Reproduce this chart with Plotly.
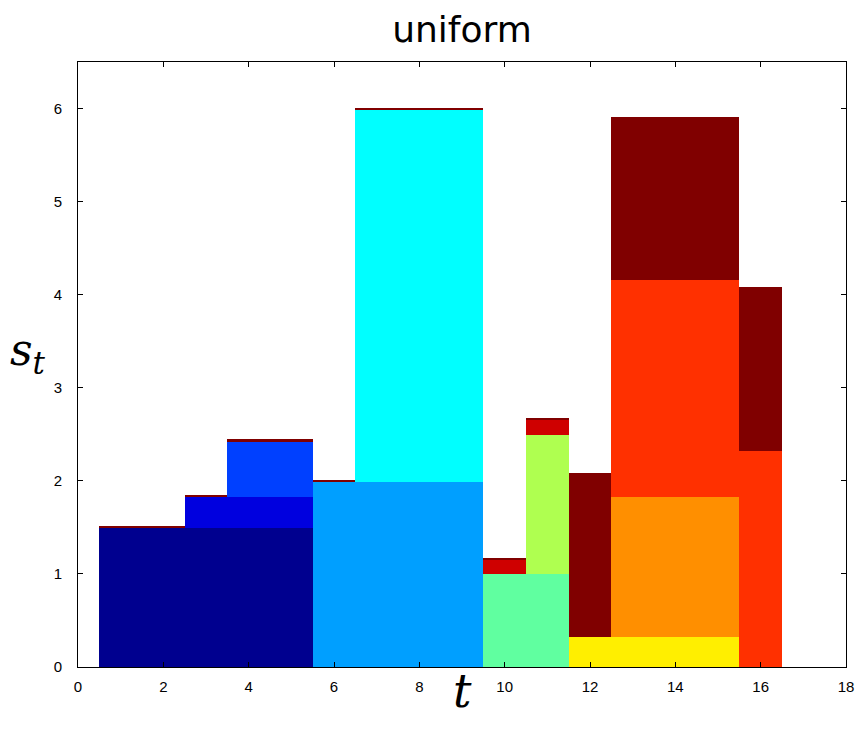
import plotly.graph_objects as go

t = list(range(1, 17))

series_names = ["c1", "c2", "c3", "c4", "c5", "c6", "c7", "c8", "c9", "c10", "c11", "c12"]
series_colors = ["#00008F", "#0000DF", "#0040FF", "#009FFF", "#00FFFF", "#60FFA0",
                 "#AFFF50", "#FFEF00", "#FF8F00", "#FF3000", "#CF0000", "#800000"]

c1 = [1.495, 1.495, 1.495, 1.495, 1.495, 0, 0, 0, 0, 0, 0, 0, 0, 0, 0, 0]
c2 = [0, 0, 0.333, 0.333, 0.333, 0, 0, 0, 0, 0, 0, 0, 0, 0, 0, 0]
c3 = [0, 0, 0, 0.600, 0.600, 0, 0, 0, 0, 0, 0, 0, 0, 0, 0, 0]
c4 = [0, 0, 0, 0, 0, 1.993, 1.993, 1.993, 1.993, 0, 0, 0, 0, 0, 0, 0]
c5 = [0, 0, 0, 0, 0, 0, 3.993, 3.993, 3.993, 0, 0, 0, 0, 0, 0, 0]
c6 = [0, 0, 0, 0, 0, 0, 0, 0, 0, 0.998, 0.998, 0, 0, 0, 0, 0]
c7 = [0, 0, 0, 0, 0, 0, 0, 0, 0, 0, 1.492, 0, 0, 0, 0, 0]
c8 = [0, 0, 0, 0, 0, 0, 0, 0, 0, 0, 0, 0.322, 0.322, 0.322, 0.322, 0]
c9 = [0, 0, 0, 0, 0, 0, 0, 0, 0, 0, 0, 0, 1.503, 1.503, 1.503, 0]
c10 = [0, 0, 0, 0, 0, 0, 0, 0, 0, 0, 0, 0, 2.329, 2.329, 2.329, 2.320]
c11 = [0, 0, 0, 0, 0, 0, 0, 0, 0, 0.160, 0.165, 0, 0, 0, 0, 0]
c12 = [0.018, 0.018, 0.018, 0.018, 0.018, 0.018, 0.018, 0.018, 0.018, 0.018, 0.018,
       1.763, 1.760, 1.760, 1.760, 1.760]

series_values = [c1, c2, c3, c4, c5, c6, c7, c8, c9, c10, c11, c12]

x_ticks = [0, 2, 4, 6, 8, 10, 12, 14, 16, 18]
y_ticks = [0, 1, 2, 3, 4, 5, 6]

fig = go.Figure()
for name, color, vals in zip(series_names, series_colors, series_values):
    fig.add_trace(go.Bar(x=t, y=vals, name=name, width=1,
                         marker=dict(color=color, line=dict(width=0))))

axis_common = dict(showgrid=False, zeroline=False, showline=True, linecolor="black",
                   linewidth=1, mirror="ticks", ticks="inside", ticklen=5,
                   tickcolor="black",
                   tickfont=dict(family="Liberation Sans", size=15, color="black"))

fig.update_layout(
    barmode="stack", bargap=0, showlegend=False,
    width=860, height=725,
    margin=dict(l=70, r=22, t=54, b=66),
    plot_bgcolor="white", paper_bgcolor="white",
    title=dict(text="uniform", x=0.5, xref="paper", xanchor="center", y=0.97, yref="container",
               yanchor="middle", font=dict(family="DejaVu Sans", size=36, color="black")),
    xaxis=dict(range=[0, 18], tickvals=x_ticks, ticklabelstandoff=6, **axis_common),
    yaxis=dict(range=[0, 6.5], tickvals=y_ticks, ticklabelstandoff=12, **axis_common),
    annotations=[
        dict(text="<i>t</i>", x=0.5, y=-0.04, xref="paper", yref="paper",
             xanchor="center", yanchor="middle", showarrow=False,
             font=dict(family="DejaVu Serif", size=46, color="black")),
        dict(text="<i>s</i><sub><i>t</i></sub>", x=-0.065, y=0.52, xref="paper", yref="paper",
             xanchor="center", yanchor="middle", showarrow=False,
             font=dict(family="DejaVu Serif", size=44, color="black")),
    ],
)

fig.write_html("out.html")
